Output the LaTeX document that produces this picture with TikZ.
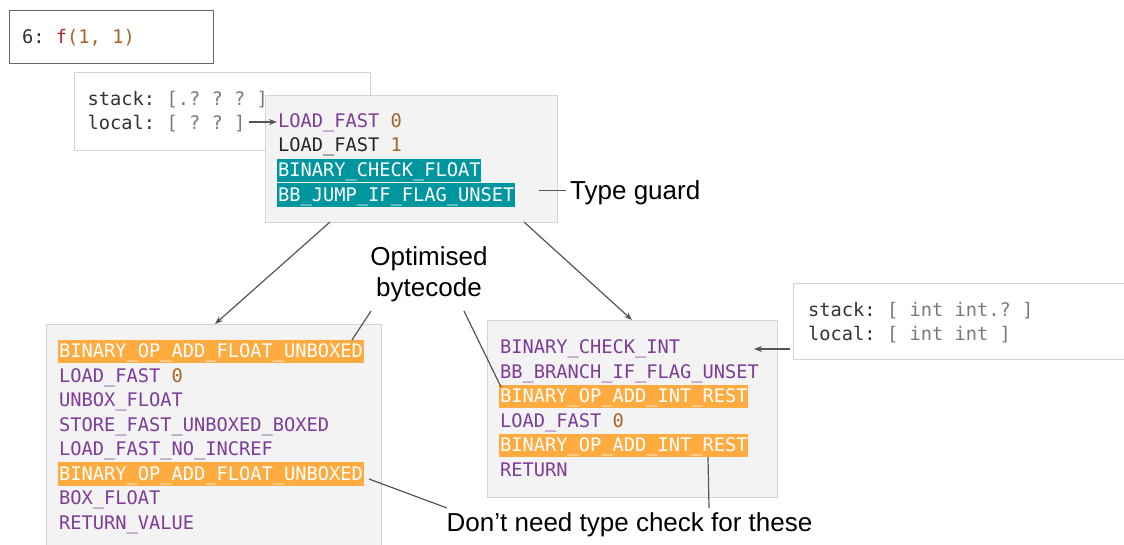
\documentclass[tikz,border=0pt]{standalone}
\usepackage{fontspec}
\setmainfont{Liberation Sans}
\newfontfamily\codefont{DejaVu Sans Mono}
\usetikzlibrary{arrows.meta}

\definecolor{purp}{HTML}{7D3C98}
\definecolor{numc}{HTML}{A8622A}
\definecolor{fnred}{HTML}{B0282A}
\definecolor{hlteal}{HTML}{00969F}
\definecolor{hlorange}{HTML}{FFAB40}
\definecolor{boxfill}{HTML}{F3F3F3}
\definecolor{boxline}{HTML}{D4D4D4}
\definecolor{darktxt}{HTML}{333333}
\definecolor{graytxt}{HTML}{7A7A7A}
\definecolor{connc}{HTML}{555555}

\newcommand{\nm}[1]{\textcolor{numc}{#1}}
\newcommand{\gy}[1]{\textcolor{graytxt}{#1}}

\frenchspacing

\begin{document}
\begin{tikzpicture}[x=1pt,y=-1pt,
  codefnt/.style={font=\codefont\fontsize{18.7}{22}\selectfont},
  code/.style={codefnt, anchor=base west, inner xsep=0.8pt, inner ysep=0pt,
    text height=18pt, text depth=5.5pt, text=purp},
  hlo/.style={code, fill=hlorange, text=white},
  hlt/.style={code, fill=hlteal, text=white},
  state/.style={codefnt, anchor=base west, inner sep=0pt, text=darktxt},
  codebox/.style={draw=boxline, line width=1pt, fill=boxfill, anchor=north west,
    inner sep=0pt},
  statebox/.style={draw=boxline, line width=1pt, fill=white, anchor=north west,
    inner sep=0pt},
  note/.style={font=\fontsize{26}{30}\selectfont, anchor=base west, inner sep=0pt},
  arr/.style={draw=connc, line width=1.2pt, -{Stealth[length=8pt,width=6pt]}},
  conn/.style={draw=connc, line width=1.2pt}]

\clip (0,0) rectangle (1124,545);
\fill[white] (0,0) rectangle (1124,545);

% call site
\node[draw=connc!90, line width=1.4pt, fill=white, anchor=north west, inner sep=0pt,
  minimum width=204pt, minimum height=53pt] (call) at (9,10) {};
\node[state] (calltxt) at (22,43.5) {6: \textcolor{fnred}{f}\nm{(1, 1)}};

% entry state (frame)
\node[statebox, minimum width=296pt, minimum height=78pt] (st1) at (74,72) {};

% guarded entry block
\node[codebox, minimum width=292pt, minimum height=127pt] (top) at (265,95) {};
\node[code] (t1) at (277,127.5) {LOAD\_FAST \nm{0}};
\node[code, text=black!85] (t2) at (277,152) {LOAD\_FAST \nm{1}};
\node[hlt] (t3) at (277,177) {BINARY\_CHECK\_FLOAT};
\node[hlt] (t4) at (277,201.5) {BB\_JUMP\_IF\_FLAG\_UNSET};

% entry state (text, over the block edge)
\node[state] (st1a) at (87.5,106) {stack: \gy{[.? ? ? ]}};
\node[state] (st1b) at (87.5,130) {local: \gy{[ ? ? ]}};

\node[note] (tg) at (570,199.3) {Type guard};

% float specialisation
\node[codebox, minimum width=335pt, minimum height=260pt] (left) at (46,324) {};
\node[hlo]  (l1) at (58,357.5) {BINARY\_OP\_ADD\_FLOAT\_UNBOXED};
\node[code] (l2) at (58,382)   {LOAD\_FAST \nm{0}};
\node[code] (l3) at (58,406.5) {UNBOX\_FLOAT};
\node[code] (l4) at (58,431)   {STORE\_FAST\_UNBOXED\_BOXED};
\node[code] (l5) at (58,455.5) {LOAD\_FAST\_NO\_INCREF};
\node[hlo]  (l6) at (58,480)   {BINARY\_OP\_ADD\_FLOAT\_UNBOXED};
\node[code] (l7) at (58,504.5) {BOX\_FLOAT};
\node[code] (l8) at (58,529)   {RETURN\_VALUE};

% int specialisation
\node[codebox, minimum width=290pt, minimum height=177pt] (right) at (487,320) {};
\node[code] (r1) at (499,353.5) {BINARY\_CHECK\_INT};
\node[code] (r2) at (499,378)   {BB\_BRANCH\_IF\_FLAG\_UNSET};
\node[hlo]  (r3) at (499,402.5) {BINARY\_OP\_ADD\_INT\_REST};
\node[code] (r4) at (499,427)   {LOAD\_FAST \nm{0}};
\node[hlo]  (r5) at (499,451.5) {BINARY\_OP\_ADD\_INT\_REST};
\node[code] (r6) at (499,476)   {RETURN};

% state for the int branch
\node[statebox, minimum width=345pt, minimum height=76pt] (st2) at (793,283) {};
\node[state] (st2a) at (808,316.7) {stack: \gy{[ int int.? ]}};
\node[state] (st2b) at (808,340.7) {local: \gy{[ int int ]}};

% annotations
\node[note, anchor=base] (opt1) at (429,266) {Optimised};
\node[note, anchor=base] (opt2) at (429,296.7) {bytecode};
\node[note] (dnt) at (446.5,531.7) {Don’t need type check for these};

% connector end points
\coordinate (a1s) at (249,122);
\coordinate (a1e) at (277,122);
\coordinate (tgs) at (539,190.5);
\coordinate (tge) at (566,190.5);
\coordinate (l1s) at (330,222);
\coordinate (l1e) at (215,324);
\coordinate (r1s) at (524,222);
\coordinate (r1e) at (632,320);
\coordinate (s2s) at (790,349);
\coordinate (s2e) at (754,349);
\coordinate (o1s) at (371,311);
\coordinate (o1e) at (352,340);
\coordinate (o2s) at (464,311);
\coordinate (o2e) at (501,387);
\coordinate (d1s) at (447,508);
\coordinate (d1e) at (369,479);
\coordinate (d2s) at (709,508);
\coordinate (d2e) at (708,457);

% connectors
\draw[arr] (a1s) -- (a1e);
\draw[conn] (tgs) -- (tge);
\draw[arr] (l1s) -- (l1e);
\draw[arr] (r1s) -- (r1e);
\draw[arr] (s2s) -- (s2e);
\draw[conn] (o1s) -- (o1e);
\draw[conn] (o2s) -- (o2e);
\draw[conn] (d1s) -- (d1e);
\draw[conn] (d2s) -- (d2e);
\end{tikzpicture}
\end{document}
